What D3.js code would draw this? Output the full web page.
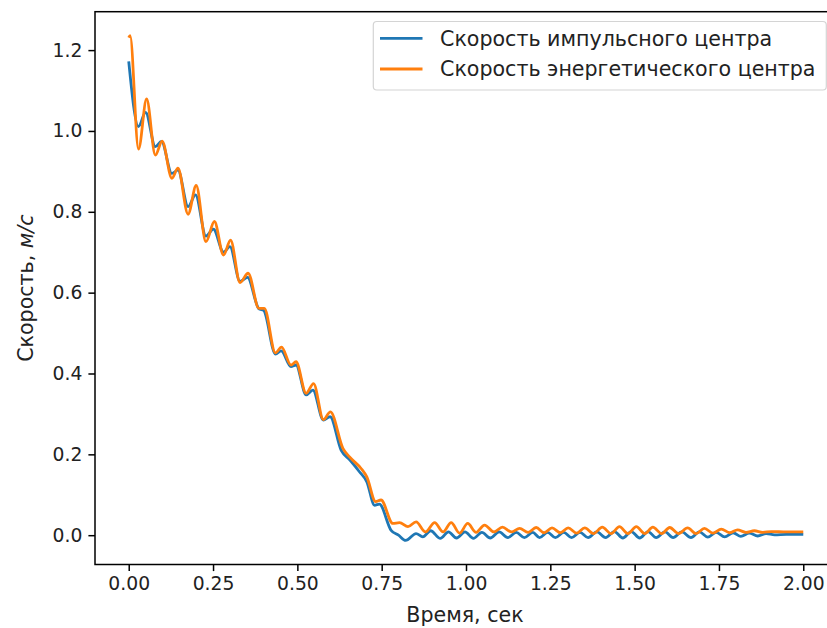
<!DOCTYPE html>
<html>
<head>
<meta charset="utf-8">
<script src="https://cdn.jsdelivr.net/npm/d3@7"></script>
<style>
  body { margin: 0; background: #fff; }
  svg { display: block; font-family: "DejaVu Sans", sans-serif; }
</style>
</head>
<body>
<script>
// time / speed (peaks and troughs of the wiggle)
var timeEnergy = [0.000, 0.004, 0.029, 0.053, 0.079, 0.099, 0.128, 0.146, 0.176, 0.200,
  0.229, 0.254, 0.281, 0.302, 0.330, 0.354, 0.386, 0.402, 0.435, 0.453,
  0.481, 0.496, 0.526, 0.548, 0.577, 0.598, 0.635, 0.659, 0.689, 0.706,
  0.732, 0.748, 0.783, 0.803, 0.828, 0.852, 0.880, 0.907, 0.932, 0.956,
  0.981, 1.005, 1.030, 1.055, 1.083, 1.108, 1.135, 1.159, 1.184, 1.208,
  1.232, 1.255, 1.280, 1.303, 1.328, 1.352, 1.378, 1.404, 1.430, 1.455,
  1.480, 1.505, 1.530, 1.554, 1.580, 1.604, 1.630, 1.657, 1.682, 1.707,
  1.732, 1.757, 1.782, 1.805, 1.830, 1.855, 1.880, 1.905, 1.950, 2.000];
var speedEnergy = [1.231, 1.236, 0.955, 1.079, 0.940, 0.975, 0.883, 0.908, 0.794, 0.865,
  0.726, 0.776, 0.693, 0.730, 0.625, 0.648, 0.561, 0.561, 0.451, 0.465,
  0.421, 0.429, 0.351, 0.375, 0.286, 0.305, 0.215, 0.190, 0.165, 0.144,
  0.083, 0.087, 0.029, 0.031, 0.021, 0.033, 0.008, 0.031, 0.008, 0.031,
  0.005, 0.029, 0.007, 0.025, 0.008, 0.020, 0.008, 0.017, 0.007, 0.019,
  0.006, 0.018, 0.006, 0.018, 0.005, 0.018, 0.004, 0.020, 0.004, 0.021,
  0.004, 0.021, 0.004, 0.020, 0.004, 0.019, 0.004, 0.018, 0.004, 0.017,
  0.005, 0.015, 0.006, 0.013, 0.007, 0.011, 0.007, 0.009, 0.008, 0.008];

var timeImpulse = [0.000, 0.029, 0.050, 0.079, 0.097, 0.128, 0.146, 0.176, 0.198, 0.229,
  0.251, 0.281, 0.300, 0.330, 0.352, 0.386, 0.400, 0.435, 0.452, 0.481,
  0.496, 0.526, 0.546, 0.577, 0.597, 0.630, 0.656, 0.684, 0.706, 0.729,
  0.743, 0.778, 0.800, 0.821, 0.852, 0.872, 0.895, 0.924, 0.948, 0.972,
  0.997, 1.022, 1.047, 1.072, 1.098, 1.124, 1.149, 1.173, 1.198, 1.218,
  1.242, 1.265, 1.290, 1.313, 1.338, 1.362, 1.388, 1.414, 1.440, 1.465,
  1.490, 1.515, 1.540, 1.564, 1.590, 1.614, 1.640, 1.667, 1.692, 1.717,
  1.742, 1.767, 1.792, 1.815, 1.840, 1.865, 1.890, 1.915, 1.950, 2.000];
var speedImpulse = [1.172, 1.011, 1.046, 0.961, 0.974, 0.895, 0.903, 0.813, 0.842, 0.740,
  0.757, 0.700, 0.714, 0.628, 0.638, 0.560, 0.556, 0.448, 0.456, 0.417,
  0.421, 0.347, 0.359, 0.285, 0.293, 0.210, 0.186, 0.157, 0.132, 0.074,
  0.077, 0.012, 0.000, -0.013, 0.004, -0.004, 0.011, -0.008, 0.008, -0.007,
  0.008, -0.008, 0.007, -0.007, 0.008, -0.006, 0.007, -0.006, 0.007, -0.006,
  0.007, -0.006, 0.007, -0.006, 0.007, -0.006, 0.008, -0.006, 0.009, -0.007,
  0.009, -0.007, 0.009, -0.006, 0.008, -0.006, 0.008, -0.006, 0.008, -0.005,
  0.007, -0.004, 0.006, -0.003, 0.005, -0.002, 0.004, 0.001, 0.002, 0.002];

var xTicks = [0, 0.25, 0.5, 0.75, 1, 1.25, 1.5, 1.75, 2];
var yTicks = [0, 0.2, 0.4, 0.6, 0.8, 1.0, 1.2];
var seriesNames = ["Скорость импульсного центра", "Скорость энергетического центра"];
var seriesColors = ["#1f77b4", "#ff7f0e"];

var W = 827, H = 628, fs = 18.75, fsText = 20.6;
var svg = d3.select("body").append("svg").attr("width", W).attr("height", H);

var x = d3.scaleLinear().domain([-0.1, 2.1]).range([95, 837]);
var y = d3.scaleLinear().domain([-0.0725, 1.295]).range([564.5, 11.7]);

var line = d3.line()
  .x(function(d){ return x(d[0]); })
  .y(function(d){ return y(d[1]); })
  .curve(d3.curveMonotoneX);

var series = [d3.zip(timeImpulse, speedImpulse), d3.zip(timeEnergy, speedEnergy)];
series.forEach(function(s, i){
  svg.append("path")
    .attr("d", line(s))
    .attr("fill", "none")
    .attr("stroke", seriesColors[i])
    .attr("stroke-width", 2.8)
    .attr("stroke-linejoin", "round");
});

// axes
var xAxis = svg.append("g").attr("transform", "translate(0," + y.range()[0] + ")")
  .call(d3.axisBottom(x).tickValues(xTicks).tickFormat(d3.format(".2f")).tickSize(6.6).tickPadding(6));
var yAxis = svg.append("g").attr("transform", "translate(" + x.range()[0] + ",0)")
  .call(d3.axisLeft(y).tickValues(yTicks).tickFormat(d3.format(".1f")).tickSize(6.6).tickPadding(6));
[xAxis, yAxis].forEach(function(g){
  g.select(".domain").remove();
  g.selectAll(".tick line").attr("stroke", "#000").attr("stroke-width", 1.5);
  g.selectAll(".tick text").attr("fill", "#222").style("font-size", fs + "px").style("font-family", "DejaVu Sans");
});

// frame
svg.append("rect")
  .attr("x", x.range()[0]).attr("y", y.range()[1])
  .attr("width", x.range()[1] - x.range()[0]).attr("height", y.range()[0] - y.range()[1])
  .attr("fill", "none").attr("stroke", "#000").attr("stroke-width", 1.5);

// axis labels
svg.append("text")
  .attr("x", 465).attr("y", 622)
  .attr("text-anchor", "middle").style("font-size", fsText + "px").attr("fill", "#222")
  .text("Время, сек");

var yl = svg.append("text")
  .attr("transform", "translate(33," + (y.range()[0] + y.range()[1]) / 2 + ") rotate(-90)")
  .attr("text-anchor", "middle").style("font-size", fsText + "px").attr("fill", "#222");
yl.append("tspan").text("Скорость, ");
yl.append("tspan").style("font-style", "italic").text("м/с");

// legend
var leg = svg.append("g");
var box = leg.append("rect");
var rowY = [38.3, 69];
var textX = 440;
var maxW = 0;
seriesNames.forEach(function(name, i){
  leg.append("line")
    .attr("x1", 380).attr("x2", 422.5).attr("y1", rowY[i]).attr("y2", rowY[i])
    .attr("stroke", seriesColors[i]).attr("stroke-width", 2.8);
  var t = leg.append("text")
    .attr("x", textX).attr("y", rowY[i]).attr("dy", "0.35em")
    .style("font-size", fsText + "px").attr("fill", "#222").text(name);
  maxW = Math.max(maxW, t.node().getComputedTextLength());
});
box.attr("x", 373.3).attr("y", 21.5)
  .attr("width", Math.max(453, textX + maxW + 8 - 373.3)).attr("height", 68.5)
  .attr("rx", 3.5).attr("fill", "#fff").attr("fill-opacity", 0.8)
  .attr("stroke", "#d4d4d4").attr("stroke-width", 1.2);
</script>
</body>
</html>
